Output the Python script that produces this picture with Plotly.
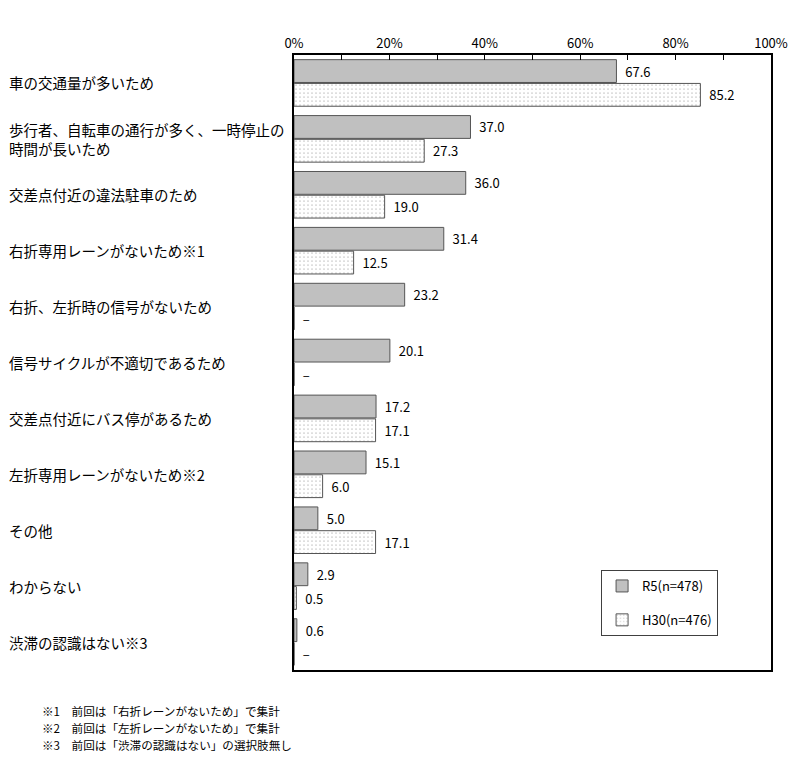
import plotly.graph_objects as go

categories = [
    "車の交通量が多いため",
    "歩行者、自転車の通行が多く、一時停止の<br>時間が長いため",
    "交差点付近の違法駐車のため",
    "右折専用レーンがないため※1",
    "右折、左折時の信号がないため",
    "信号サイクルが不適切であるため",
    "交差点付近にバス停があるため",
    "左折専用レーンがないため※2",
    "その他",
    "わからない",
    "渋滞の認識はない※3",
]
r5_values = [67.6, 37.0, 36.0, 31.4, 23.2, 20.1, 17.2, 15.1, 5.0, 2.9, 0.6]
h30_values = [85.2, 27.3, 19.0, 12.5, None, None, 17.1, 6.0, 17.1, 0.5, None]
series_names = ["R5(n=478)", "H30(n=476)"]
x_ticks = [0, 20, 40, 60, 80, 100]
x_tick_labels = [f"{v}%" for v in x_ticks]
footnotes = [
    "※1　前回は「右折レーンがないため」で集計",
    "※2　前回は「左折レーンがないため」で集計",
    "※3　前回は「渋滞の認識はない」の選択肢無し",
]

FONT = "Noto Sans CJK JP"
ykeys = [f"c{i}" for i in range(len(categories))]


def labels(vals):
    return ["\u00a0\u00a0" + (f"{v:.1f}" if v is not None else "–") for v in vals]


def xs(vals):
    return [v if v is not None else 0 for v in vals]


fig = go.Figure()
fig.add_trace(go.Bar(
    y=ykeys, x=xs(r5_values), orientation="h", name=series_names[0],
    marker=dict(color="#c0c0c0", line=dict(color="#555555", width=1)),
    text=labels(r5_values), textposition="outside", constraintext="none",
    cliponaxis=False, textfont=dict(size=13, color="#000"),
    legendgroup="a",
))
fig.add_trace(go.Bar(
    y=ykeys, x=xs(h30_values), orientation="h", name=series_names[1],
    marker=dict(color="white", line=dict(color="#555555", width=1),
                pattern=dict(shape=".", fgcolor="#000", bgcolor="white", size=4, solidity=0.06)),
    text=labels(h30_values), textposition="outside", constraintext="none",
    cliponaxis=False, textfont=dict(size=13, color="#000"),
    legendgroup="b",
))

L, R, T, B = 294, 26, 55, 93
W, H = 800, 763
pw, ph = W - L - R, H - T - B

annotations = []
for k, c in zip(ykeys, categories):
    annotations.append(dict(
        x=(5 - L) / pw, xref="paper", y=k, yref="y", text=c, showarrow=False,
        xanchor="left", yanchor="middle", align="left",
        font=dict(size=14.5, color="#000", family=FONT),
    ))
for i, f in enumerate(footnotes):
    ypix = 711 + 17 * i
    annotations.append(dict(
        x=(38 - L) / pw, xref="paper", y=(H - B - ypix) / ph, yref="paper",
        text=f, showarrow=False, xanchor="left", yanchor="middle",
        font=dict(size=11.6, color="#000", family=FONT),
    ))

fig.update_layout(
    width=W, height=H, margin=dict(l=L, r=R, t=T, b=B),
    paper_bgcolor="white", plot_bgcolor="white",
    font=dict(family=FONT, size=13, color="#000"),
    barmode="group", bargap=0.15, bargroupgap=0.04,
    showlegend=True,
    legend=dict(
        x=(603 - L) / pw, y=(H - B - 570) / ph, xanchor="left", yanchor="top",
        bordercolor="#404040", borderwidth=1, bgcolor="white",
        font=dict(size=13, family=FONT), tracegroupgap=14,
        traceorder="grouped",
    ),
    annotations=annotations,
)
fig.update_xaxes(
    side="top", range=[0, 100], tickvals=x_ticks, ticktext=x_tick_labels,
    ticks="inside", ticklen=5, tickcolor="#000",
    minor=dict(dtick=10, ticks="inside", ticklen=5, tickcolor="#000"),
    showgrid=False, zeroline=False,
    showline=True, linecolor="#000", linewidth=1.5, mirror=True,
    tickfont=dict(size=13),
)
fig.update_yaxes(
    autorange="reversed", showticklabels=False, ticks="",
    showgrid=False, zeroline=False,
    showline=True, linecolor="#000", linewidth=1.5, mirror=True,
)

fig.write_html("out.html")
